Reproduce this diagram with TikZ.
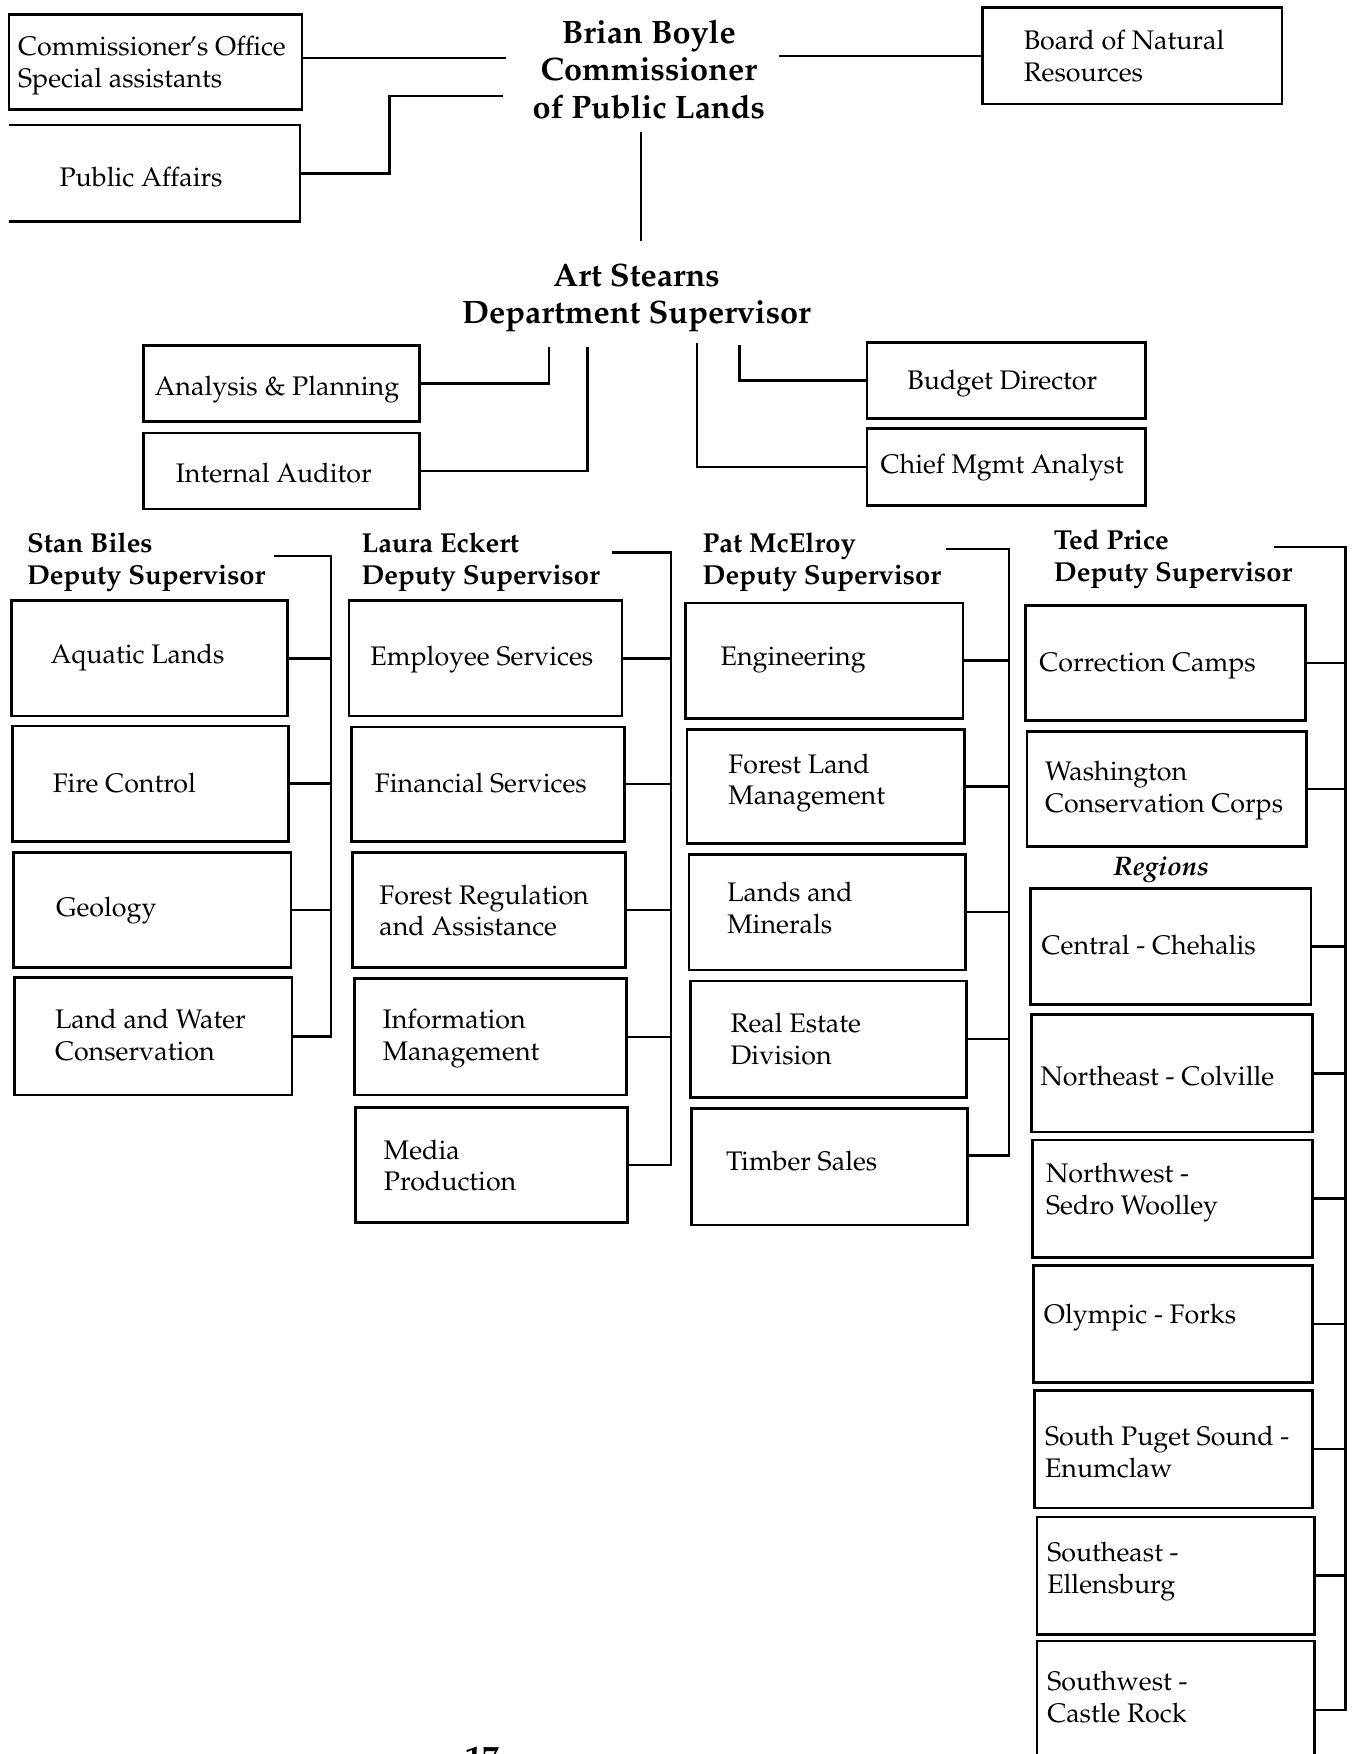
\documentclass[tikz,border=0pt]{standalone}
\usepackage[T1]{fontenc}
\renewcommand{\rmdefault}{ppl}
\usetikzlibrary{fit}
\tikzset{
  obx/.style={draw, line width=2.4pt, inner sep=0pt},
  lbl/.style={anchor=west, align=left, inner sep=0pt, yshift=-3pt, font=\fontsize{24}{28.5}\selectfont},
  hd/.style={align=center, inner sep=0pt, font=\bfseries\fontsize{29}{33.5}\selectfont},
  dep/.style={anchor=west, align=left, inner sep=0pt, yshift=-3pt, font=\bfseries\fontsize{24.5}{29}\selectfont},
  con/.style={line width=2.2pt}
}
\newcommand\obox[8]{\node[obx, fit={(#2,#3) (#4,#5)}] (#1) {};
  \node[lbl] (#1-t) at (#6,#7) {#8};}
\begin{document}
\begin{tikzpicture}[x=1pt,y=-1pt]
\useasboundingbox (0,0) rectangle (1208,1568);
\clip (0,0) rectangle (1208,1568);
\fill[white] (0,0) rectangle (1208,1568);
% ---------- top ----------
\obox{co}{8}{13}{270}{98}{16}{56}{Commissioner\kern-1.5pt's Office\\Special assistants}
\node[inner sep=0pt, fit={(8,112) (268,198)}] (pa) {};
\draw[line width=2.4pt] (pa.north west) -- (pa.north east) -- (pa.south east) -- (pa.south west);
\node[lbl] (pa-t) at (53,155) {Public Affairs};
\obox{bnr}{878}{7}{1146}{93}{915}{47.5}{Board of Natural\\Resources}
\node[hd] (bb) at (580,62) {Brian Boyle\\Commissioner\\of Public Lands};
\coordinate (bbW1) at (452,52);
\coordinate (bbW2) at (450,86);
\coordinate (bbE) at (696,50);
\coordinate (bbS) at (573,118);
\draw[con] (co.east |- bbW1) -- (bbW1);
\draw[con] (pa.east) -- ++(80,0) |- (bbW2);
\draw[con] (bbE) -- (bnr.west);
\node[hd] (as) at (569,266) {Art Stearns\\Department Supervisor};
\coordinate (asN) at (573,215);
\draw[con] (bbS) -- (asN);
% ---------- staff ----------
\obox{ap}{128}{309}{375}{377}{138}{345}{Analysis \& Planning}
\obox{ia}{128}{387}{375}{455}{157}{420}{Internal Auditor}
\obox{bd}{775}{306}{1024}{374}{811}{340}{Budget Director}
\obox{cma}{775}{383}{1024}{452}{787}{415}{Chief Mgmt Analyst}
\coordinate (asA) at (491,310);
\coordinate (asB) at (525,310);
\coordinate (asC) at (661,308);
\coordinate (asD) at (623,307);
\draw[con] (ap.east) -| (asA);
\draw[con] (ia.east) -| (asB);
\draw[con] (bd.west) -| (asC);
\draw[con] (cma.west) -| (asD);
% ---------- Stan Biles ----------
\node[dep] (sb) at (24,499.5) {Stan Biles\\Deputy Supervisor};
\obox{aq}{10}{537}{257}{640}{45}{585}{Aquatic Lands}
\obox{fc}{11}{649}{258}{752}{47}{697}{Fire Control}
\obox{ge}{12}{762}{260}{865}{50}{811}{Geology}
\obox{lw}{13}{874}{261}{979}{49}{922}{Land and Water\\Conservation}
\coordinate (sbA) at (245,497);
\coordinate (sbB) at (296,497);
\draw[con] (sbA) -- (sbB) |- (lw.east);
\foreach \b in {aq,fc,ge} \draw[con] (\b.east) -- (\b.east -| sbB);
% ---------- Laura Eckert ----------
\node[dep] (le) at (323,499.5) {Laura Eckert\\Deputy Supervisor};
\obox{es}{312}{537}{556}{640}{331}{587}{Employee Services}
\obox{fs}{314}{650}{558}{752}{335}{697}{Financial Services}
\obox{fr}{315}{762}{559}{865}{339}{811}{Forest Regulation\\and Assistance}
\obox{im}{317}{875}{560}{979}{342}{925.5}{Information\\Management}
\obox{mp}{318}{990}{561}{1093}{343}{1039}{Media\\Production}
\coordinate (leA) at (547,494);
\coordinate (leB) at (600,494);
\draw[con] (leA) -- (leB) |- (mp.east);
\foreach \b in {es,fs,fr,im} \draw[con] (\b.east) -- (\b.east -| leB);
% ---------- Pat McElroy ----------
\node[dep] (pm) at (628,499.5) {Pat McElroy\\Deputy Supervisor};
\obox{en}{613}{539}{861}{642}{644}{587}{Engineering}
\obox{fl}{614}{652}{862}{754}{651}{697}{Forest Land\\Management}
\obox{lm}{616}{764}{863}{867}{650}{809}{Lands and\\Minerals}
\obox{re}{617}{877}{864}{981}{653}{925.5}{Real Estate\\Division}
\obox{ts}{618}{991}{865}{1095}{649}{1035}{Timber Sales}
\coordinate (pmA) at (846,491);
\coordinate (pmB) at (902,491);
\draw[con] (pmA) -- (pmB) |- ([yshift=10pt]ts.east);
\foreach \b in {en,fl,lm,re} \draw[con] (\b.east) -- (\b.east -| pmB);
% ---------- Ted Price ----------
\node[dep] (tp) at (942,497) {Ted Price\\Deputy Supervisor};
\obox{cc}{917}{541}{1167}{644}{929}{592}{Correction Camps}
\obox{wc}{918}{654}{1168}{757}{934}{704}{Washington\\Conservation Corps}
\node[inner sep=0pt, font=\bfseries\itshape\fontsize{24}{28}\selectfont] (reg) at (1038,777) {Regions};
\obox{cch}{921}{794}{1172}{898}{931}{842}{Central - Chehalis}
\obox{nec}{922}{907}{1173}{1012}{930}{959}{Northeast - Colville}
\obox{nws}{923}{1019}{1173}{1124}{935}{1063}{Northwest -\\Sedro Woolley}
\obox{of}{924}{1131}{1173}{1236}{933}{1175}{Olympic - Forks}
\obox{sps}{925}{1243}{1173}{1348}{934}{1295}{South Puget Sound -\\Enumclaw}
\obox{see}{927}{1356}{1175}{1461}{936}{1402}{Southeast -\\Ellensburg}
\obox{sw}{927}{1467}{1175}{1590}{936}{1514}{Southwest -\\Castle Rock}
\coordinate (tpA) at (1139,489);
\coordinate (tpB) at (1203,489);
\draw[con] (tpA) -- (tpB) |- (sw.east);
\foreach \b in {cc,wc,cch,nec,nws,of,sps,see} \draw[con] (\b.east) -- (\b.east -| tpB);
% ---------- page number (cut by the page edge, as in the scan) ----------
\node[anchor=base, inner sep=0pt, font=\bfseries\fontsize{30}{30}\selectfont] (pg) at (431,1582) {17};
\end{tikzpicture}
\end{document}
